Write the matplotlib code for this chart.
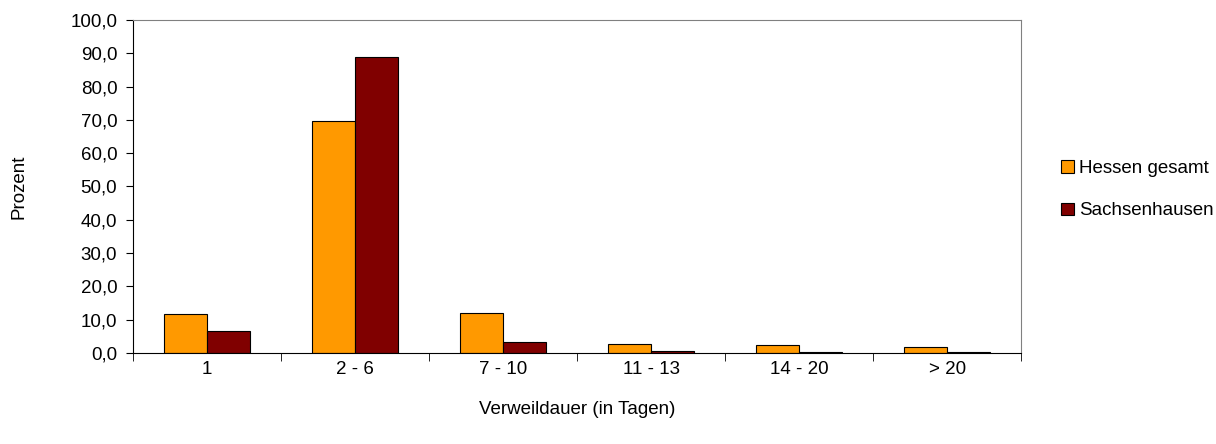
import numpy as np
import matplotlib.pyplot as plt
from matplotlib.ticker import FuncFormatter

plt.rcParams['font.family'] = ['Liberation Sans', 'DejaVu Sans']

categories = ['1', '2 - 6', '7 - 10', '11 - 13', '14 - 20', '> 20']
hessen = [11.7, 69.6, 12.0, 2.7, 2.3, 1.7]
sachsenhausen = [6.5, 89.0, 3.3, 0.5, 0.2, 0.2]

fs = 13.5

fig = plt.figure(figsize=(12.16, 4.44), dpi=100)
ax = fig.add_axes([0.109, 0.205, 0.731, 0.75])

x = np.arange(len(categories))
w = 0.29
ax.bar(x - w/2, hessen, w, color='#ff9900', edgecolor='black', linewidth=0.8, label='Hessen gesamt')
ax.bar(x + w/2, sachsenhausen, w, color='#800000', edgecolor='black', linewidth=0.8, label='Sachsenhausen')

ax.set_xlim(-0.5, len(categories) - 0.5)
ax.set_ylim(0, 100)
ax.set_yticks(np.arange(0, 101, 10))
ax.yaxis.set_major_formatter(FuncFormatter(lambda v, p: ('%.1f' % v).replace('.', ',')))
ax.set_xticks(x)
ax.set_xticklabels(categories)
ax.tick_params(axis='x', length=0, labelsize=fs, pad=5.5)
ax.set_xticks(np.arange(-0.5, len(categories)), minor=True)
ax.tick_params(axis='x', which='minor', length=6, direction='out')
ax.tick_params(axis='y', length=5, direction='out', labelsize=fs, pad=6)

for s in ['top', 'right']:
    ax.spines[s].set_color('#808080')
ax.spines['left'].set_color('black')
ax.spines['bottom'].set_color('black')

ax.set_xlabel('Verweildauer (in Tagen)', fontsize=fs, labelpad=17)
ax.set_ylabel('Prozent', fontsize=fs, labelpad=31)

leg = ax.legend(loc='center left', bbox_to_anchor=(1.045, 0.49), frameon=False,
                fontsize=fs, handlelength=0.65, handleheight=0.65, handletextpad=0.3,
                labelspacing=1.35, borderpad=0, borderaxespad=0)

fig.savefig('out.png', dpi=100)
